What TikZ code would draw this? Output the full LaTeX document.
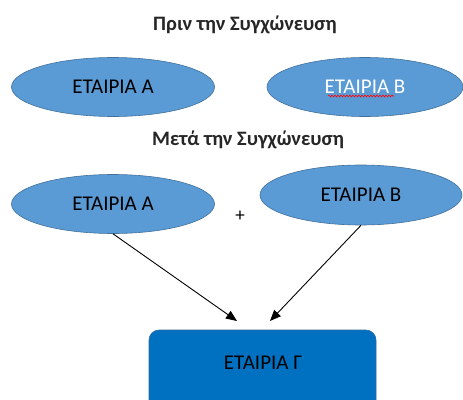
\documentclass[tikz,border=0pt]{standalone}
\usepackage{fontspec}
\setmainfont{Carlito}
\usetikzlibrary{shapes.geometric,arrows.meta,decorations.pathmorphing}
\definecolor{ellfill}{HTML}{5B9BD5}
\definecolor{elldraw}{HTML}{41719C}
\definecolor{boxfill}{HTML}{0070C0}
\definecolor{boxdraw}{HTML}{2F6AA3}
\tikzset{
  firm/.style={ellipse, fill=ellfill, draw=elldraw, line width=0.6pt, inner sep=0pt,
    minimum width=203pt, minimum height=59pt, font=\fontsize{21}{24}\selectfont, text=black},
  title/.style={font=\bfseries\fontsize{20.5}{24}\selectfont, text=black!85},
  merged/.style={rectangle, rounded corners=10pt, fill=boxfill, draw=boxdraw, line width=0.6pt,
    minimum width=227pt, minimum height=80pt, inner sep=0pt},
  link/.style={-{Triangle[length=11pt,width=9pt]}, line width=0.9pt, black}
}
\begin{document}
\begin{tikzpicture}[x=1pt,y=-1pt]
\useasboundingbox (0,0) rectangle (463,399);
\node[title] (t1) at (245,25) {Πριν την Συγχώνευση};
\node[firm] (a1) at (113,87) {ΕΤΑΙΡΙΑ Α};
\node[firm, minimum width=196pt, text=white] (b1) at (365,87) {ΕΤΑΙΡΙΑ Β};
\draw[red, line width=0.6pt, decorate, decoration={snake, amplitude=0.9pt, segment length=3pt}]
  ([xshift=-37pt,yshift=-9pt]b1.center) -- ([xshift=29pt,yshift=-9pt]b1.center);
\node[title] (t2) at (248,140) {Μετά την Συγχώνευση};
\node[firm] (a2) at (113,204) {ΕΤΑΙΡΙΑ Α};
\node[firm, minimum width=202pt, minimum height=60pt] (b2) at (361,195) {ΕΤΑΙΡΙΑ Β};
\node[font=\fontsize{19}{22}\selectfont] (plus) at (240,216) {+};
\node[merged] (c) at (262.5,370) {};
\node[font=\fontsize{21}{24}\selectfont] (clabel) at (263,363) {ΕΤΑΙΡΙΑ Γ};
\coordinate (e1) at (237,321);
\coordinate (e2) at (270,321);
\draw[link] (a2.south) -- (e1);
\draw[link] (b2.south) -- (e2);
\end{tikzpicture}
\end{document}
